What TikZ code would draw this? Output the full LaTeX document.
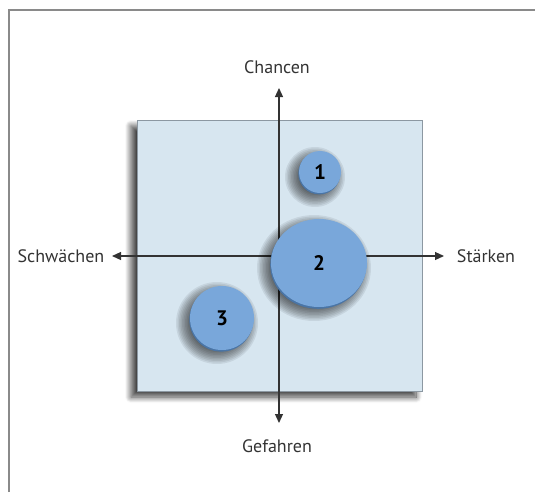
\documentclass[tikz,border=0pt]{standalone}
\usepackage{fontspec}
\setmainfont{PT Sans}
\usetikzlibrary{arrows.meta,shadows.blur,shapes.geometric}
\definecolor{frame}{HTML}{8A8A8A}
\definecolor{sqfill}{HTML}{D7E6F0}
\definecolor{sqedge}{HTML}{8C98A2}
\definecolor{bub}{HTML}{79A7DA}
\definecolor{bubdark}{HTML}{4A75A6}
\definecolor{axis}{HTML}{333333}
\tikzset{
  axisline/.style={draw=axis, line width=1.2pt, {Triangle[length=9pt,width=8pt]}-{Triangle[length=9pt,width=8pt]}},
  axlabel/.style={font=\fontsize{18}{20}\selectfont, text=black!80, inner sep=0pt},
  bubble/.style={ellipse, fill=bub, inner sep=0pt, font=\bfseries\fontsize{21}{23}\selectfont},
  bubbleedge/.style={ellipse, fill=bubdark, inner sep=0pt},
  softshade/.style={fill=black, fill opacity=0.075, draw=none},
}
% blurred shadow: centre x, centre y, radius x, radius y
\newcommand\mybubshadow[4]{%
  \foreach \k in {0,...,11}{%
    \fill[softshade] (#1-5,#2+5) ellipse [x radius={#3+9-\k*1.5}, y radius={#4+9-\k*1.5}];
  }%
}
\begin{document}
\begin{tikzpicture}[x=1pt,y=-1pt]
\useasboundingbox (0,0) rectangle (535,493);
% outer frame
\draw[frame, line width=1.6pt] (9,492) -- (9,10) -- (535,10);
% square
\node (sq) [rectangle, minimum width=285pt, minimum height=271pt, fill=sqfill, draw=sqedge, line width=0.8pt,
  blur shadow={shadow xshift=-6pt, shadow yshift=-6pt, shadow blur radius=6pt, shadow blur steps=12, shadow opacity=75}] at (279.5,255.5) {};
% axes
\coordinate (top) at (279,88);
\coordinate (bot) at (279,423);
\coordinate (lft) at (112,256);
\coordinate (rgt) at (444,256);
\draw[axisline] (lft) -- (rgt);
\draw[axisline] (bot) -- (top);
% labels
\node[axlabel] (chancen) at (277,67) {Chancen};
\node[axlabel] (gefahren) at (277,446) {Gefahren};
\node[axlabel] (schwaechen) at (61,256) {Schwächen};
\node[axlabel] (staerken) at (486,256) {Stärken};
% bubble shadows
\mybubshadow{320}{172}{21}{21}
\mybubshadow{319}{263}{48}{44}
\mybubshadow{222}{318}{32}{32}
% bubbles
\node[bubbleedge, minimum width=42pt, minimum height=42pt] (e1) at (319.3,173.4) {};
\node[bubble, minimum width=42pt, minimum height=42pt] (b1) at (320,172) {1};
\node[bubbleedge, minimum width=96pt, minimum height=88pt] (e2) at (318.2,264.8) {};
\node[bubble, minimum width=96pt, minimum height=88pt] (b2) at (319,263) {2};
\node[bubbleedge, minimum width=64pt, minimum height=64pt] (e3) at (221.3,319.6) {};
\node[bubble, minimum width=64pt, minimum height=64pt] (b3) at (222,318) {3};
\end{tikzpicture}
\end{document}
